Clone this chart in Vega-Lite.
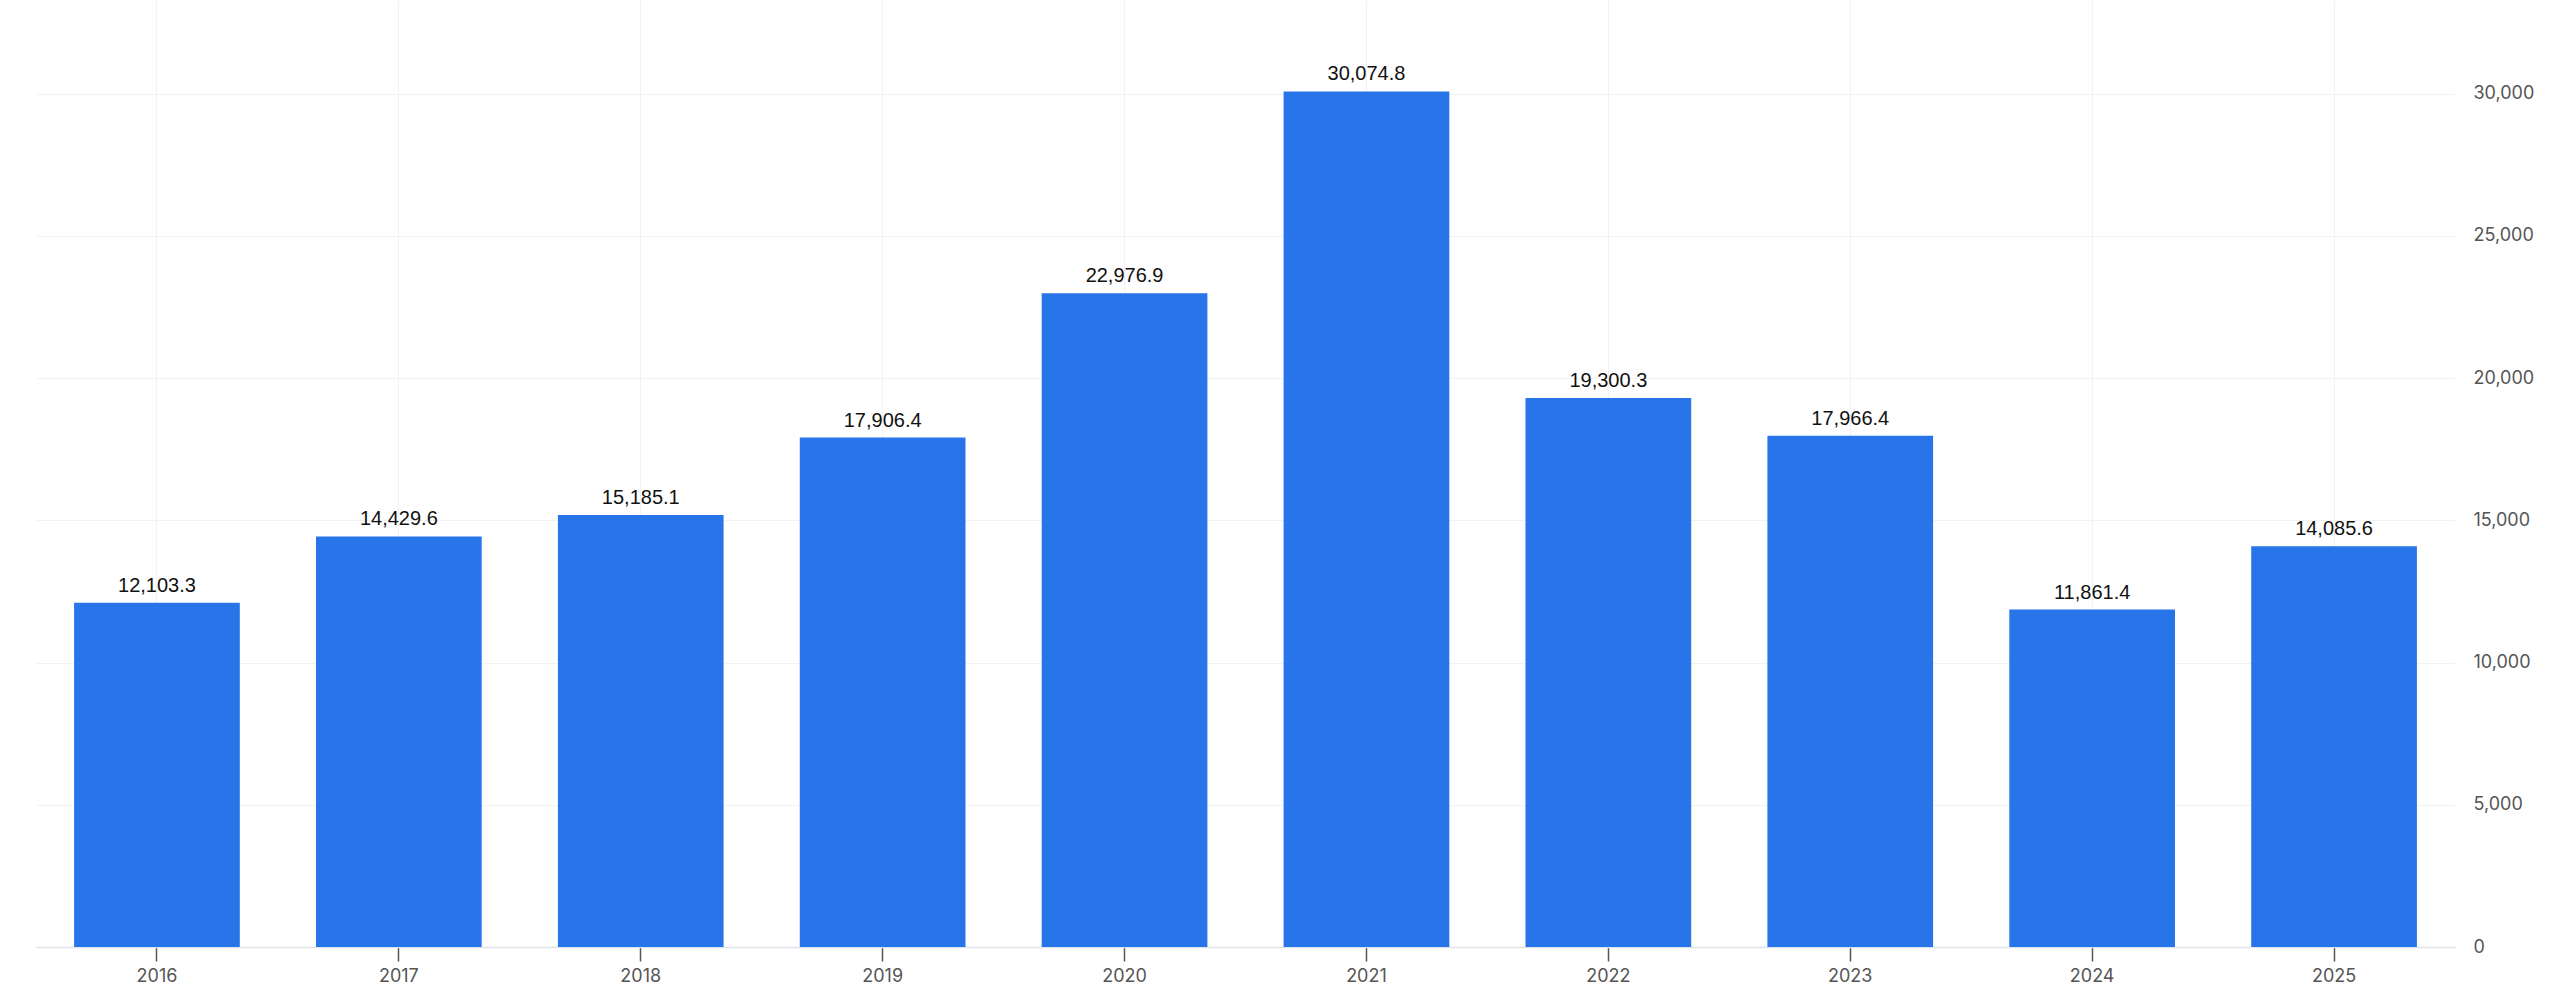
{
  "$schema": "https://vega.github.io/schema/vega-lite/v6.json",
  "autosize": {"type": "none"},
  "width": 2419,
  "height": 947,
  "padding": {"left": 36, "top": 0, "right": 105, "bottom": 59},
  "background": "#ffffff",
  "config": {"view": {"stroke": null}},
  "data": {"values": [
    {"year": "2016", "value": 12103.3},
    {"year": "2017", "value": 14429.6},
    {"year": "2018", "value": 15185.1},
    {"year": "2019", "value": 17906.4},
    {"year": "2020", "value": 22976.9},
    {"year": "2021", "value": 30074.8},
    {"year": "2022", "value": 19300.3},
    {"year": "2023", "value": 17966.4},
    {"year": "2024", "value": 11861.4},
    {"year": "2025", "value": 14085.6}
  ]},
  "encoding": {
    "x": {"field": "year", "type": "ordinal", "title": null,
      "scale": {"paddingInner": 0.315, "paddingOuter": 0.1575},
      "axis": {"orient": "bottom", "labelAngle": 0, "grid": true, "gridColor": "#f1f2f5", "gridWidth": 1,
        "domain": true, "domainColor": "#dfe3ea", "domainWidth": 1.5,
        "ticks": true, "tickColor": "#555555", "tickSize": 14, "tickWidth": 1.5,
        "labelPadding": 6, "labelFont": "Inter", "labelFontSize": 18, "labelColor": "#555555"}},
    "y": {"field": "value", "type": "quantitative", "title": null,
      "scale": {"domain": [0, 33287], "nice": false, "zero": true},
      "axis": {"orient": "right", "values": [0, 5000, 10000, 15000, 20000, 25000, 30000], "format": ",.0f",
        "grid": true, "gridColor": "#f1f2f5", "gridWidth": 1, "domain": false, "ticks": false,
        "labelPadding": 18, "labelFont": "Inter", "labelFontSize": 18, "labelColor": "#555555"}}
  },
  "layer": [
    {"mark": {"type": "bar", "color": "#2874e9"}},
    {"mark": {"type": "text", "baseline": "alphabetic", "dy": -11, "font": "Liberation Sans", "fontSize": 20, "color": "#111111"},
      "encoding": {"text": {"field": "value", "type": "quantitative", "format": ",.1f"}}}
  ]
}
